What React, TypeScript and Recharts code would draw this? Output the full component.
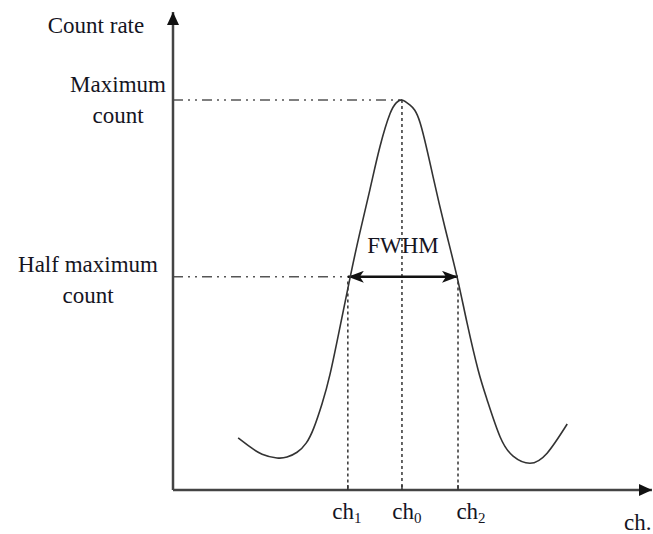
import React from 'react';
import { LineChart, Line, XAxis, YAxis, ReferenceLine } from 'recharts';

// spectrum (arbitrary channel / count units, 0..100)
const channels = [
  13.6, 16.1, 18.6, 21.7, 23.8, 25.9, 27.8, 29.4, 31.1, 32.8, 34.9, 37.0, 39.0, 41.1, 43.2, 45.3, 46.6, 47.8,
  49.5, 51.6, 54.3, 56.8, 59.3, 61.4, 63.7, 65.6, 68.3, 71.0, 74.5, 78.1, 82.3,
];
const counts = [
  10.9, 9.0, 7.5, 6.7, 6.9, 7.9, 9.8, 13.0, 18.0, 24.3, 34.3, 44.6, 53.8, 62.8, 71.8, 78.7, 81.0, 81.6,
  80.5, 76.8, 65.5, 54.8, 44.6, 34.9, 25.1, 18.8, 11.1, 7.1, 5.6, 7.7, 13.8,
];

const ch0 = 47.8;
const ch1 = 36.5;
const ch2 = 59.5;
const maxCount = 81.6;
const halfMaxCount = 44.6;

const tickChannels = [ch1, ch0, ch2];
const tickSubs = ['1', '0', '2'];

const data = channels.map((c, i) => ({ ch: c, count: counts[i] }));

const FONT = '"Liberation Serif", "Times New Roman", serif';
const TEXT = '#15151f';
const INK = '#333';
const DASH_DOT = '10 5 2 5 2 5';

const ChTick = (props: any) => {
  const { x, y, index } = props;
  const nudge = [-1, 5, 13][index] || 0;
  return (
    <g>
      <line x1={x} x2={x} y1={y - 5} y2={y} stroke={INK} strokeWidth={1.5} />
      <text x={x + nudge} y={y + 29} textAnchor="middle" fontFamily={FONT} fontSize={23} fill={TEXT}>
        ch
        <tspan fontSize={15} dy={4}>{tickSubs[index]}</tspan>
      </text>
    </g>
  );
};

const twoLines = (cx: number, y1: number, y2: number, a: string, b: string) => (
  <g>
    <text x={cx} y={y1} textAnchor="middle" fontFamily={FONT} fontSize={23} fill={TEXT}>{a}</text>
    <text x={cx} y={y2} textAnchor="middle" fontFamily={FONT} fontSize={23} fill={TEXT}>{b}</text>
  </g>
);

const App = () => {
  return (
    <div style={{ position: 'absolute', left: 0, top: 0, width: 653, height: 534, background: '#fff' }}>
      <LineChart width={653} height={534} data={data} margin={{ top: 12, right: 1, bottom: 14, left: 173 }}>
        <defs>
          <marker id="axisArrow" markerUnits="userSpaceOnUse" markerWidth={14} markerHeight={12}
            refX={13} refY={6} orient="auto">
            <path d="M0,0 L13,6 L0,12 z" fill="#111" />
          </marker>
          <marker id="fwhmArrow" markerUnits="userSpaceOnUse" markerWidth={16} markerHeight={12}
            refX={16} refY={6} orient="auto-start-reverse">
            <path d="M0,0 L16,6 L0,12 L4,6 z" fill="#111" />
          </marker>
        </defs>
        <XAxis
          type="number"
          dataKey="ch"
          domain={[0, 100]}
          allowDataOverflow
          ticks={tickChannels}
          tick={<ChTick />}
          tickLine={false}
          axisLine={false}
          tickSize={0}
          tickMargin={0}
          height={30}
          interval={0}
        />
        <YAxis type="number" domain={[0, 100]} allowDataOverflow hide />

        {/* guide lines */}
        <ReferenceLine
          segment={[{ x: 0, y: maxCount }, { x: ch0, y: maxCount }]}
          stroke="#555" strokeWidth={1.5} strokeDasharray={DASH_DOT}
          label={(p: any) => twoLines(p.viewBox.x - 55, p.viewBox.y - 8, p.viewBox.y + 23, 'Maximum', 'count')}
        />
        <ReferenceLine
          segment={[{ x: 0, y: halfMaxCount }, { x: ch1, y: halfMaxCount }]}
          stroke="#555" strokeWidth={1.5} strokeDasharray={DASH_DOT}
          label={(p: any) => twoLines(p.viewBox.x - 85, p.viewBox.y - 5, p.viewBox.y + 26, 'Half maximum', 'count')}
        />
        <ReferenceLine segment={[{ x: ch0, y: maxCount }, { x: ch0, y: 0 }]} stroke={INK} strokeWidth={1.5} strokeDasharray="3 3" />
        <ReferenceLine segment={[{ x: ch1, y: halfMaxCount - 1 }, { x: ch1, y: 0 }]} stroke={INK} strokeWidth={1.5} strokeDasharray="3 3" />
        <ReferenceLine segment={[{ x: ch2, y: halfMaxCount - 1 }, { x: ch2, y: 0 }]} stroke={INK} strokeWidth={1.5} strokeDasharray="3 3" />

        {/* FWHM arrow */}
        <ReferenceLine
          segment={[{ x: ch1, y: halfMaxCount }, { x: ch2, y: halfMaxCount }]}
          stroke="#111" strokeWidth={2.5}
          markerStart="url(#fwhmArrow)" markerEnd="url(#fwhmArrow)"
          label={(p: any) => (
            <text x={p.viewBox.x + p.viewBox.width / 2} y={p.viewBox.y - 24} textAnchor="middle"
              fontFamily={FONT} fontSize={23} fill={TEXT}>FWHM</text>
          )}
        />

        {/* axes with arrows */}
        <ReferenceLine
          segment={[{ x: 0, y: 0 }, { x: 0, y: 100 }]}
          stroke="#444" strokeWidth={2.5} markerEnd="url(#axisArrow)"
          label={(p: any) => (
            <text x={p.viewBox.x - 77} y={p.viewBox.y + 21} textAnchor="middle"
              fontFamily={FONT} fontSize={23} fill={TEXT}>Count rate</text>
          )}
        />
        <ReferenceLine
          segment={[{ x: 0, y: 0 }, { x: 100, y: 0 }]}
          stroke="#444" strokeWidth={2.5} markerEnd="url(#axisArrow)"
          label={(p: any) => (
            <text x={p.viewBox.x + p.viewBox.width - 28} y={p.viewBox.y + 40}
              fontFamily={FONT} fontSize={23} fill={TEXT}>ch.</text>
          )}
        />

        <Line
          type="natural"
          dataKey="count"
          stroke={INK}
          strokeWidth={1.6}
          dot={false}
          activeDot={false}
          isAnimationActive={false}
        />
      </LineChart>
    </div>
  );
};

export default App;
